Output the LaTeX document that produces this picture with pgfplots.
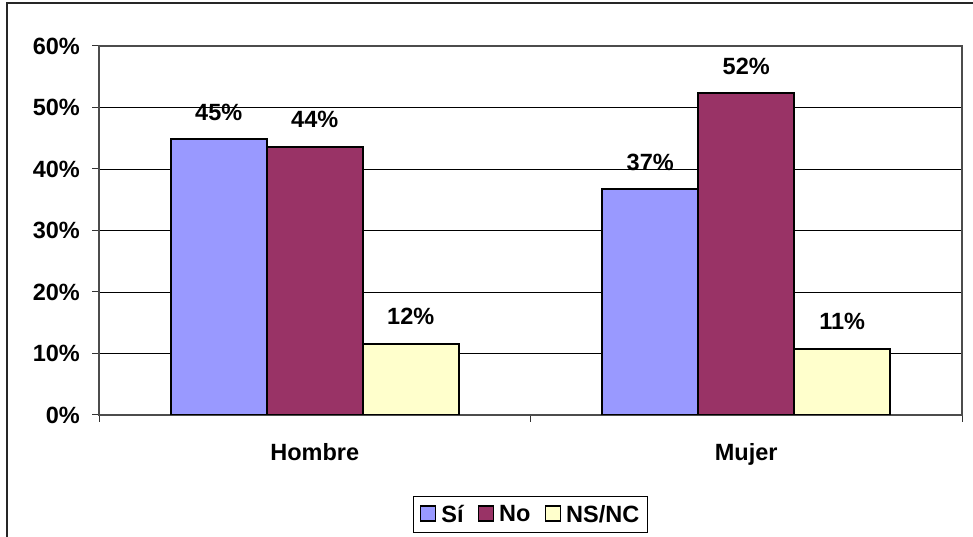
\documentclass[border=0pt]{standalone}
\usepackage{fontspec}
\setmainfont{Liberation Sans}
\usepackage{pgfplots}
\pgfplotsset{compat=1.18}
\definecolor{csi}{HTML}{9999FF}
\definecolor{cno}{HTML}{993366}
\definecolor{cns}{HTML}{FFFFCC}
\newcommand\ff{\fontsize{23.5}{27}\selectfont\bfseries}
\pgfplotsset{sq/.style={legend image code/.code={\draw[##1, line width=1.6pt, draw=black] (0pt,-6.5pt) rectangle (15pt,8.5pt);}}}
\begin{document}
\begin{tikzpicture}[x=1pt,y=1pt]
\useasboundingbox (0,0) rectangle (973,537);
\draw[line width=1.5pt, black!85] (7,0) -- (7,534) -- (973,534);
\begin{axis}[
  at={(99pt,122pt)}, anchor=south west,
  scale only axis, width=863pt, height=369pt,
  ybar=0pt, bar width=96pt,
  xmin=-0.5, xmax=1.5, ymin=0, ymax=60,
  xtick={-0.5,0.5,1.5}, xticklabels={},
  extra x ticks={0,1}, extra x tick labels={Hombre,Mujer},
  extra x tick style={major tick length=0pt, grid=none},
  xtick pos=bottom, ytick pos=left,
  ytick={0,10,...,60}, yticklabels={0\%,10\%,20\%,30\%,40\%,50\%,60\%},
  ymajorgrids, grid style={black, line width=0.9pt},
  tick style={black!80, line width=1pt}, tick align=outside, major tick length=7pt,
  axis line style={black!70, line width=1.2pt},
  yticklabel style={font=\ff, anchor=east, inner sep=0pt, xshift=-12pt},
  xticklabel style={font=\ff, anchor=north, inner sep=0pt, yshift=-28pt},
  nodes near coords={\pgfmathprintnumber[fixed,precision=0,assume math mode=true]{\pgfplotspointmeta}\%},
  every node near coord/.append style={font=\ff, inner sep=0pt, yshift=18pt},
  legend columns=3,
  legend style={at={(0.5,-0.2696)}, anchor=center, draw=black, line width=1pt, font=\ff,
    inner xsep=6pt, inner ysep=7pt,
    /tikz/every odd column/.append style={column sep=3pt},
    /tikz/every even column/.append style={column sep=12pt}},
]
\addplot[fill=csi, draw=black, line width=2pt, sq] coordinates {(0,44.8) (1,36.7)};
\addplot[fill=cno, draw=black, line width=2pt, sq] coordinates {(0,43.6) (1,52.3)};
\addplot[fill=cns, draw=black, line width=2pt, sq] coordinates {(0,11.6) (1,10.8)};
\legend{Sí,No,NS/NC}
\end{axis}
\end{tikzpicture}
\end{document}
